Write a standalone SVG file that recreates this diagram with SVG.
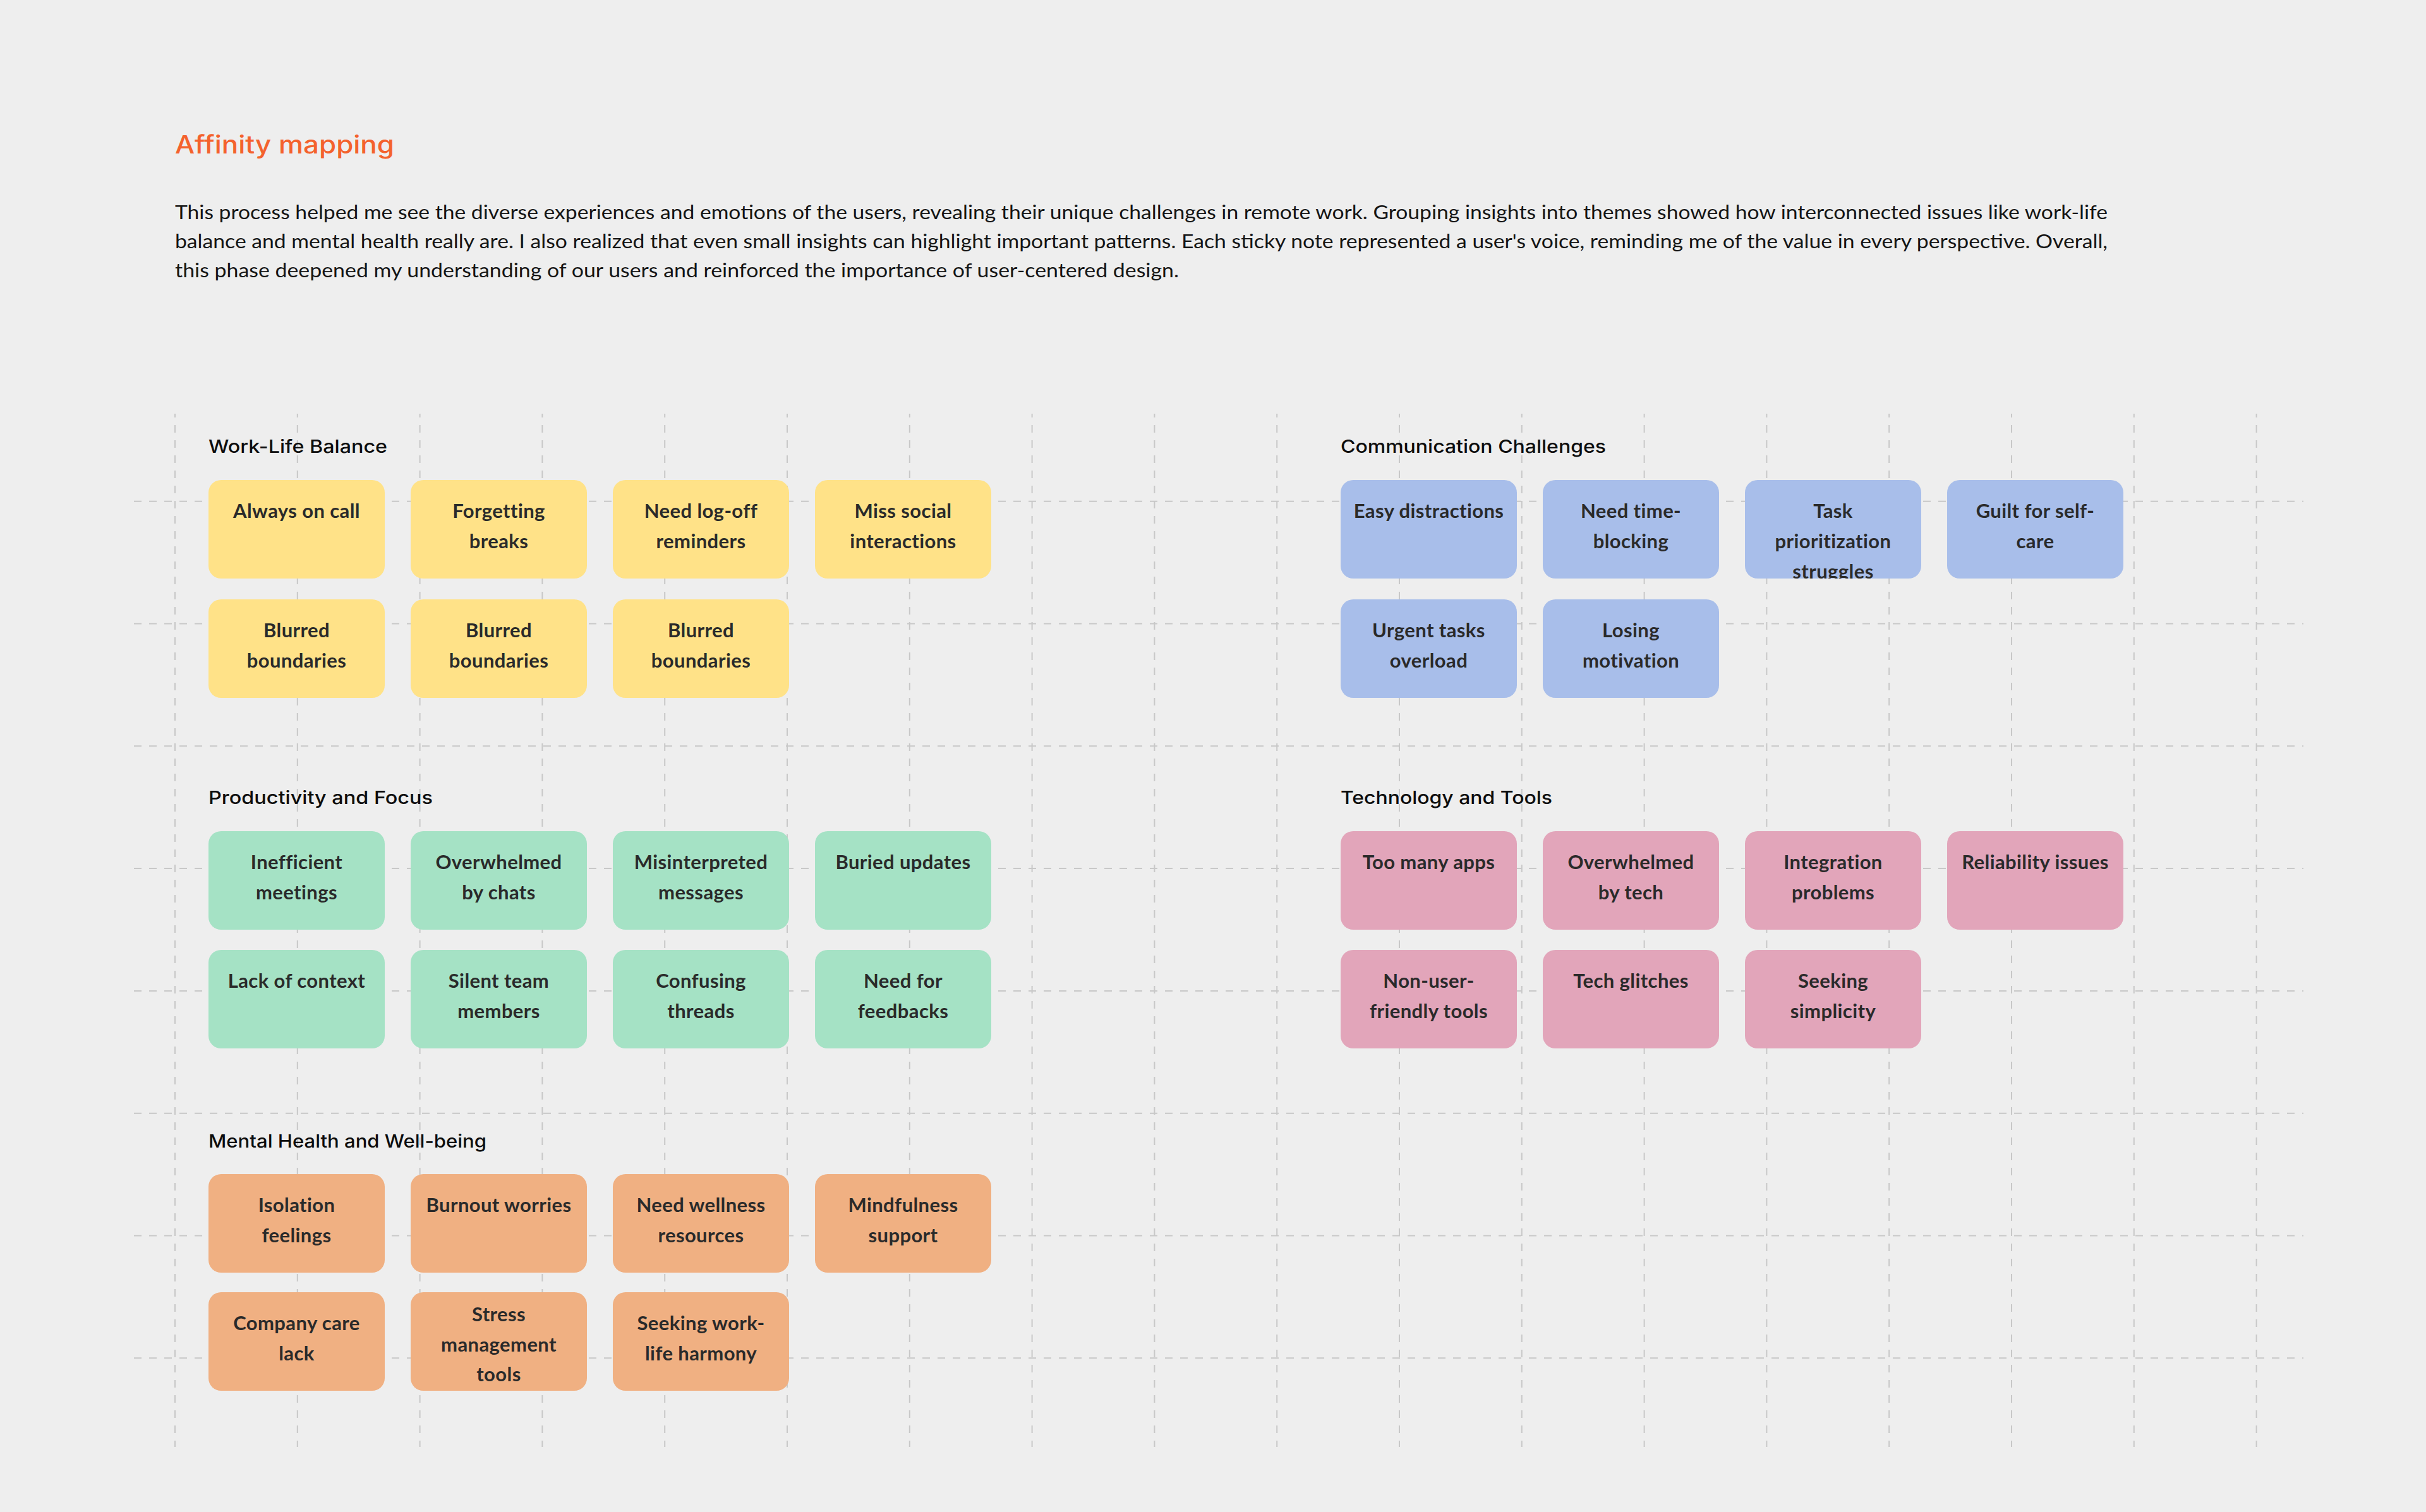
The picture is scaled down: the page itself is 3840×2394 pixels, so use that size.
<svg xmlns="http://www.w3.org/2000/svg" width="3840" height="2394" viewBox="0 0 3840 2394">
<style>
.bg{fill:#eeeeee}
.gv,.gh{stroke:#c8c8c8;stroke-width:2;stroke-dasharray:12 12;fill:none}
.gv{stroke-dashoffset:6}
.title{font-family:Inter,"Liberation Sans",sans-serif;font-weight:500;font-size:39px;fill:#f4622d}
.body{font-family:Lato,"Liberation Sans",sans-serif;font-size:30px;fill:#151515}
.head{font-family:Inter,"Liberation Sans",sans-serif;font-weight:500;font-size:29px;fill:#0d0d0d}
.card text{font-family:Lato,"Liberation Sans",sans-serif;font-weight:700;font-size:31px;letter-spacing:0.4px;fill:#2a2a2a;text-anchor:middle}
.y rect{fill:#ffe288}.b rect{fill:#a8beea}.g rect{fill:#a5e2c5}.p rect{fill:#e2a5ba}.o rect{fill:#f0b082}
</style>
<defs>
<clipPath id="clipTask"><rect x="2762" y="760" width="279" height="156" rx="20"/></clipPath>
</defs>
<rect class="bg" x="0" y="0" width="3840" height="2394"/>
<g id="grid">
<line class="gv" x1="277" y1="655" x2="277" y2="2291"/>
<line class="gv" x1="470.8" y1="655" x2="470.8" y2="2291"/>
<line class="gv" x1="664.6" y1="655" x2="664.6" y2="2291"/>
<line class="gv" x1="858.4" y1="655" x2="858.4" y2="2291"/>
<line class="gv" x1="1052.2" y1="655" x2="1052.2" y2="2291"/>
<line class="gv" x1="1246" y1="655" x2="1246" y2="2291"/>
<line class="gv" x1="1439.8" y1="655" x2="1439.8" y2="2291"/>
<line class="gv" x1="1633.6" y1="655" x2="1633.6" y2="2291"/>
<line class="gv" x1="1827.4" y1="655" x2="1827.4" y2="2291"/>
<line class="gv" x1="2021.2" y1="655" x2="2021.2" y2="2291"/>
<line class="gv" x1="2215" y1="655" x2="2215" y2="2291"/>
<line class="gv" x1="2408.8" y1="655" x2="2408.8" y2="2291"/>
<line class="gv" x1="2602.6" y1="655" x2="2602.6" y2="2291"/>
<line class="gv" x1="2796.4" y1="655" x2="2796.4" y2="2291"/>
<line class="gv" x1="2990.2" y1="655" x2="2990.2" y2="2291"/>
<line class="gv" x1="3184" y1="655" x2="3184" y2="2291"/>
<line class="gv" x1="3377.8" y1="655" x2="3377.8" y2="2291"/>
<line class="gv" x1="3571.6" y1="655" x2="3571.6" y2="2291"/>
<line class="gh" x1="212" y1="793.7" x2="3646" y2="793.7"/>
<line class="gh" x1="212" y1="987.5" x2="3646" y2="987.5"/>
<line class="gh" x1="212" y1="1181.3" x2="3646" y2="1181.3"/>
<line class="gh" x1="212" y1="1375.1" x2="3646" y2="1375.1"/>
<line class="gh" x1="212" y1="1568.9" x2="3646" y2="1568.9"/>
<line class="gh" x1="212" y1="1762.7" x2="3646" y2="1762.7"/>
<line class="gh" x1="212" y1="1956.5" x2="3646" y2="1956.5"/>
<line class="gh" x1="212" y1="2150.3" x2="3646" y2="2150.3"/>
</g>
<g id="connectors"/>
<g id="header">
<text class="title" x="277" y="243" textLength="347" lengthAdjust="spacingAndGlyphs">Affinity mapping</text>
<text class="body" x="277" y="347" textLength="3059" lengthAdjust="spacingAndGlyphs">This process helped me see the diverse experiences and emotions of the users, revealing their unique challenges in remote work. Grouping insights into themes showed how interconnected issues like work-life</text>
<text class="body" x="277" y="393" textLength="3059" lengthAdjust="spacingAndGlyphs">balance and mental health really are. I also realized that even small insights can highlight important patterns. Each sticky note represented a user's voice, reminding me of the value in every perspective. Overall,</text>
<text class="body" x="277" y="439" textLength="1589" lengthAdjust="spacingAndGlyphs">this phase deepened my understanding of our users and reinforced the importance of user-centered design.</text>
</g>
<g id="headings">
<text id="h-wlb" class="head" x="330" y="717" textLength="283" lengthAdjust="spacingAndGlyphs">Work-Life Balance</text>
<text id="h-comm" class="head" x="2122" y="717" textLength="420" lengthAdjust="spacingAndGlyphs">Communication Challenges</text>
<text id="h-prod" class="head" x="330" y="1273" textLength="355" lengthAdjust="spacingAndGlyphs">Productivity and Focus</text>
<text id="h-tech" class="head" x="2122" y="1273" textLength="335" lengthAdjust="spacingAndGlyphs">Technology and Tools</text>
<text id="h-mental" class="head" x="330" y="1817" textLength="440" lengthAdjust="spacingAndGlyphs">Mental Health and Well-being</text>
</g>
<!-- Work-Life Balance -->
<g id="wlb-1" class="card y"><rect x="330" y="760" width="279" height="156" rx="20"/><text x="469.5" y="820">Always on call</text></g>
<g id="wlb-2" class="card y"><rect x="650" y="760" width="279" height="156" rx="20"/><text x="789.5" y="820">Forgetting</text><text x="789.5" y="868">breaks</text></g>
<g id="wlb-3" class="card y"><rect x="970" y="760" width="279" height="156" rx="20"/><text x="1109.5" y="820">Need log-off</text><text x="1109.5" y="868">reminders</text></g>
<g id="wlb-4" class="card y"><rect x="1290" y="760" width="279" height="156" rx="20"/><text x="1429.5" y="820">Miss social</text><text x="1429.5" y="868">interactions</text></g>
<g id="wlb-5" class="card y"><rect x="330" y="949" width="279" height="156" rx="20"/><text x="469.5" y="1009">Blurred</text><text x="469.5" y="1057">boundaries</text></g>
<g id="wlb-6" class="card y"><rect x="650" y="949" width="279" height="156" rx="20"/><text x="789.5" y="1009">Blurred</text><text x="789.5" y="1057">boundaries</text></g>
<g id="wlb-7" class="card y"><rect x="970" y="949" width="279" height="156" rx="20"/><text x="1109.5" y="1009">Blurred</text><text x="1109.5" y="1057">boundaries</text></g>
<!-- Communication Challenges -->
<g id="comm-1" class="card b"><rect x="2122" y="760" width="279" height="156" rx="20"/><text x="2261.5" y="820">Easy distractions</text></g>
<g id="comm-2" class="card b"><rect x="2442" y="760" width="279" height="156" rx="20"/><text x="2581.5" y="820">Need time-</text><text x="2581.5" y="868">blocking</text></g>
<g id="comm-3" class="card b"><rect x="2762" y="760" width="279" height="156" rx="20"/><g clip-path="url(#clipTask)"><text x="2901.5" y="820">Task</text><text x="2901.5" y="868">prioritization</text><text x="2901.5" y="916">struggles</text></g></g>
<g id="comm-4" class="card b"><rect x="3082" y="760" width="279" height="156" rx="20"/><text x="3221.5" y="820">Guilt for self-</text><text x="3221.5" y="868">care</text></g>
<g id="comm-5" class="card b"><rect x="2122" y="949" width="279" height="156" rx="20"/><text x="2261.5" y="1009">Urgent tasks</text><text x="2261.5" y="1057">overload</text></g>
<g id="comm-6" class="card b"><rect x="2442" y="949" width="279" height="156" rx="20"/><text x="2581.5" y="1009">Losing</text><text x="2581.5" y="1057">motivation</text></g>
<!-- Productivity and Focus -->
<g id="prod-1" class="card g"><rect x="330" y="1316" width="279" height="156" rx="20"/><text x="469.5" y="1376">Inefficient</text><text x="469.5" y="1424">meetings</text></g>
<g id="prod-2" class="card g"><rect x="650" y="1316" width="279" height="156" rx="20"/><text x="789.5" y="1376">Overwhelmed</text><text x="789.5" y="1424">by chats</text></g>
<g id="prod-3" class="card g"><rect x="970" y="1316" width="279" height="156" rx="20"/><text x="1109.5" y="1376">Misinterpreted</text><text x="1109.5" y="1424">messages</text></g>
<g id="prod-4" class="card g"><rect x="1290" y="1316" width="279" height="156" rx="20"/><text x="1429.5" y="1376">Buried updates</text></g>
<g id="prod-5" class="card g"><rect x="330" y="1504" width="279" height="156" rx="20"/><text x="469.5" y="1564">Lack of context</text></g>
<g id="prod-6" class="card g"><rect x="650" y="1504" width="279" height="156" rx="20"/><text x="789.5" y="1564">Silent team</text><text x="789.5" y="1612">members</text></g>
<g id="prod-7" class="card g"><rect x="970" y="1504" width="279" height="156" rx="20"/><text x="1109.5" y="1564">Confusing</text><text x="1109.5" y="1612">threads</text></g>
<g id="prod-8" class="card g"><rect x="1290" y="1504" width="279" height="156" rx="20"/><text x="1429.5" y="1564">Need for</text><text x="1429.5" y="1612">feedbacks</text></g>
<!-- Technology and Tools -->
<g id="tech-1" class="card p"><rect x="2122" y="1316" width="279" height="156" rx="20"/><text x="2261.5" y="1376">Too many apps</text></g>
<g id="tech-2" class="card p"><rect x="2442" y="1316" width="279" height="156" rx="20"/><text x="2581.5" y="1376">Overwhelmed</text><text x="2581.5" y="1424">by tech</text></g>
<g id="tech-3" class="card p"><rect x="2762" y="1316" width="279" height="156" rx="20"/><text x="2901.5" y="1376">Integration</text><text x="2901.5" y="1424">problems</text></g>
<g id="tech-4" class="card p"><rect x="3082" y="1316" width="279" height="156" rx="20"/><text x="3221.5" y="1376">Reliability issues</text></g>
<g id="tech-5" class="card p"><rect x="2122" y="1504" width="279" height="156" rx="20"/><text x="2261.5" y="1564">Non-user-</text><text x="2261.5" y="1612">friendly tools</text></g>
<g id="tech-6" class="card p"><rect x="2442" y="1504" width="279" height="156" rx="20"/><text x="2581.5" y="1564">Tech glitches</text></g>
<g id="tech-7" class="card p"><rect x="2762" y="1504" width="279" height="156" rx="20"/><text x="2901.5" y="1564">Seeking</text><text x="2901.5" y="1612">simplicity</text></g>
<!-- Mental Health and Well-being -->
<g id="mental-1" class="card o"><rect x="330" y="1859" width="279" height="156" rx="20"/><text x="469.5" y="1919">Isolation</text><text x="469.5" y="1967">feelings</text></g>
<g id="mental-2" class="card o"><rect x="650" y="1859" width="279" height="156" rx="20"/><text x="789.5" y="1919">Burnout worries</text></g>
<g id="mental-3" class="card o"><rect x="970" y="1859" width="279" height="156" rx="20"/><text x="1109.5" y="1919">Need wellness</text><text x="1109.5" y="1967">resources</text></g>
<g id="mental-4" class="card o"><rect x="1290" y="1859" width="279" height="156" rx="20"/><text x="1429.5" y="1919">Mindfulness</text><text x="1429.5" y="1967">support</text></g>
<g id="mental-5" class="card o"><rect x="330" y="2046" width="279" height="156" rx="20"/><text x="469.5" y="2106">Company care</text><text x="469.5" y="2154">lack</text></g>
<g id="mental-6" class="card o"><rect x="650" y="2046" width="279" height="156" rx="20"/><text x="789.5" y="2092">Stress</text><text x="789.5" y="2140">management</text><text x="789.5" y="2187">tools</text></g>
<g id="mental-7" class="card o"><rect x="970" y="2046" width="279" height="156" rx="20"/><text x="1109.5" y="2106">Seeking work-</text><text x="1109.5" y="2154">life harmony</text></g>
</svg>
